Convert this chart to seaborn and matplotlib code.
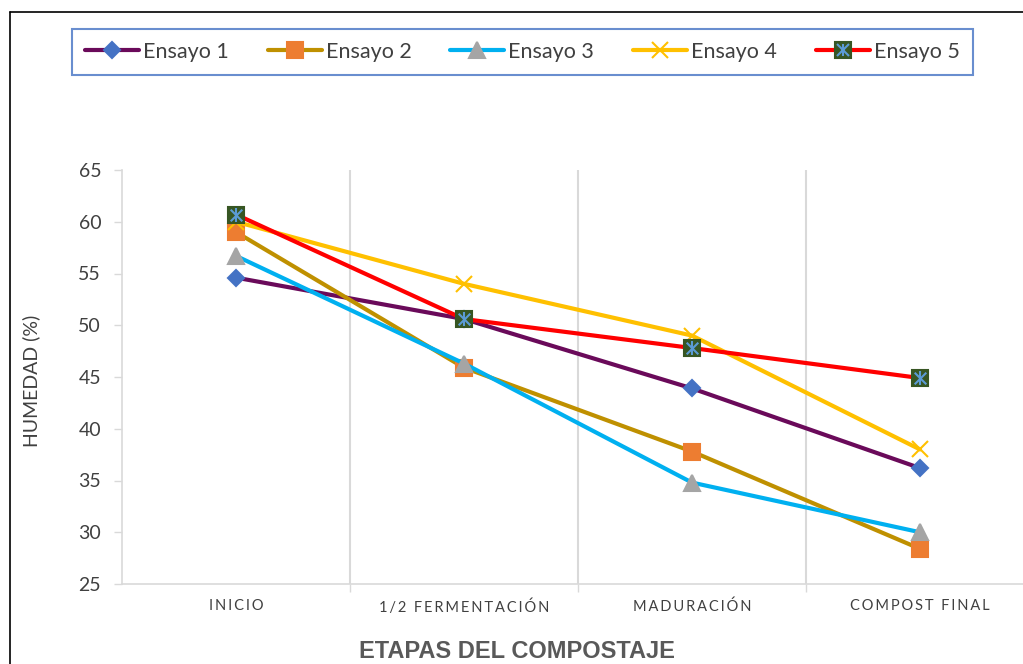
import matplotlib
matplotlib.use('Agg')
import matplotlib.pyplot as plt
from matplotlib.lines import Line2D
from matplotlib.legend_handler import HandlerTuple
import seaborn as sns

# Datos
etapas = ['INICIO', '1/2 FERMENTACIÓN', 'MADURACIÓN', 'COMPOST FINAL']
ensayo_1 = [54.6, 50.6, 43.9, 36.2]
ensayo_2 = [59.0, 45.9, 37.8, 28.4]
ensayo_3 = [56.7, 46.3, 34.8, 30.0]
ensayo_4 = [60.0, 54.0, 49.0, 38.0]
ensayo_5 = [60.7, 50.6, 47.8, 44.9]
nombres = ['Ensayo 1', 'Ensayo 2', 'Ensayo 3', 'Ensayo 4', 'Ensayo 5']

sns.set_theme(style='white')
plt.rcParams['font.family'] = ['Lato', 'DejaVu Sans']

# estilo de cada serie: color linea, marcador, relleno, borde, tamaño
estilos = [
    ('#6A0A5A', 'D', '#4472C4', '#4472C4', 8),
    ('#BF9000', 's', '#ED7D31', '#ED7D31', 11),
    ('#00B0F0', '^', '#A5A5A5', '#A5A5A5', 12),
    ('#FFC000', 'x', '#FFC000', '#FFC000', 11),
    ('#FF0000', 's', '#375623', '#375623', 11),
]
series = [ensayo_1, ensayo_2, ensayo_3, ensayo_4, ensayo_5]

fig = plt.figure(figsize=(10.23, 6.64), dpi=100)
ax = fig.add_axes([122 / 1023, 80 / 664, 912 / 1023, 414 / 664])

handles = []
for i, (vals, (lc, mk, mfc, mec, ms)) in enumerate(zip(series, estilos)):
    sns.lineplot(x=etapas, y=vals, color=lc, lw=3, marker=mk, markersize=ms,
                 markerfacecolor=mfc, markeredgecolor=mec, markeredgewidth=1.5,
                 ax=ax, zorder=3 + i)
    handles.append(Line2D([], [], color=lc, lw=3, marker=mk, markersize=ms,
                          markerfacecolor=mfc, markeredgecolor=mec,
                          markeredgewidth=1.5))

# asterisco azul sobre el cuadrado verde del Ensayo 5
sns.scatterplot(x=etapas, y=ensayo_5, marker='x', s=70, color='#5B9BD5',
                linewidth=1.5, ax=ax, zorder=10)
sns.scatterplot(x=etapas, y=ensayo_5, marker='|', s=90, color='#5B9BD5',
                linewidth=1.5, ax=ax, zorder=10)
h5 = (handles[4],
      Line2D([], [], ls='none', marker='x', markersize=8, color='#5B9BD5', mew=1.5),
      Line2D([], [], ls='none', marker='|', markersize=9, color='#5B9BD5', mew=1.5))
handles[4] = h5

ax.set_xlim(-0.5, 3.5)
ax.set_ylim(25, 65)
ax.set_yticks(range(25, 66, 5))


def espaciado(t):
    return '\u2009'.join(t)


ax.set_xticks(range(len(etapas)))
ax.set_xticklabels([espaciado(e) for e in etapas], fontsize=10.5, color='#404040')
ax.set_xticks([0.5, 1.5, 2.5, 3.5], minor=True)
ax.tick_params(axis='x', which='major', length=0, pad=11)
ax.tick_params(axis='x', which='minor', length=6, width=1, color='#D9D9D9',
               bottom=True)
ax.tick_params(axis='y', which='major', length=6, width=1, color='#D9D9D9',
               labelsize=14, labelcolor='#404040', pad=9, left=True)
ax.grid(which='minor', axis='x', color='#D9D9D9', lw=1.5)
ax.grid(which='major', axis='y', visible=False)
ax.grid(which='major', axis='x', visible=False)

for s in ['top', 'right']:
    ax.spines[s].set_visible(False)
for s in ['left', 'bottom']:
    ax.spines[s].set_color('#D9D9D9')
    ax.spines[s].set_linewidth(1.2)

ax.set_ylabel('HUMEDAD (%)', fontsize=14, color='#404040')
ax.yaxis.set_label_coords(-0.09, 0.49)
ax.set_xlabel('ETAPAS DEL COMPOSTAJE', fontsize=17, fontweight='bold',
              color='#595959', family=['Liberation Sans Narrow', 'Liberation Sans'],
              va='center')
ax.xaxis.set_label_coords(0.433, -0.162)

leg = fig.legend(handles, nombres, loc='center', ncol=5,
                 bbox_to_anchor=(522.5 / 1023, 1 - 52 / 664),
                 fontsize=15.5, frameon=True, fancybox=False, handlelength=2.5,
                 handletextpad=0.2, columnspacing=1.8, borderpad=0.6,
                 handler_map={tuple: HandlerTuple(ndivide=1)})
leg.get_frame().set_edgecolor('#4472C4')
leg.get_frame().set_linewidth(1.5)
for t in leg.get_texts():
    t.set_color('#404040')

# marco negro exterior
fig.add_artist(Line2D([10 / 1023, 1], [1 - 12 / 664, 1 - 12 / 664],
                      color='black', lw=1.2, transform=fig.transFigure))
fig.add_artist(Line2D([10 / 1023, 10 / 1023], [0, 1 - 12 / 664],
                      color='black', lw=1.2, transform=fig.transFigure))

fig.savefig('out.png', dpi=100)
